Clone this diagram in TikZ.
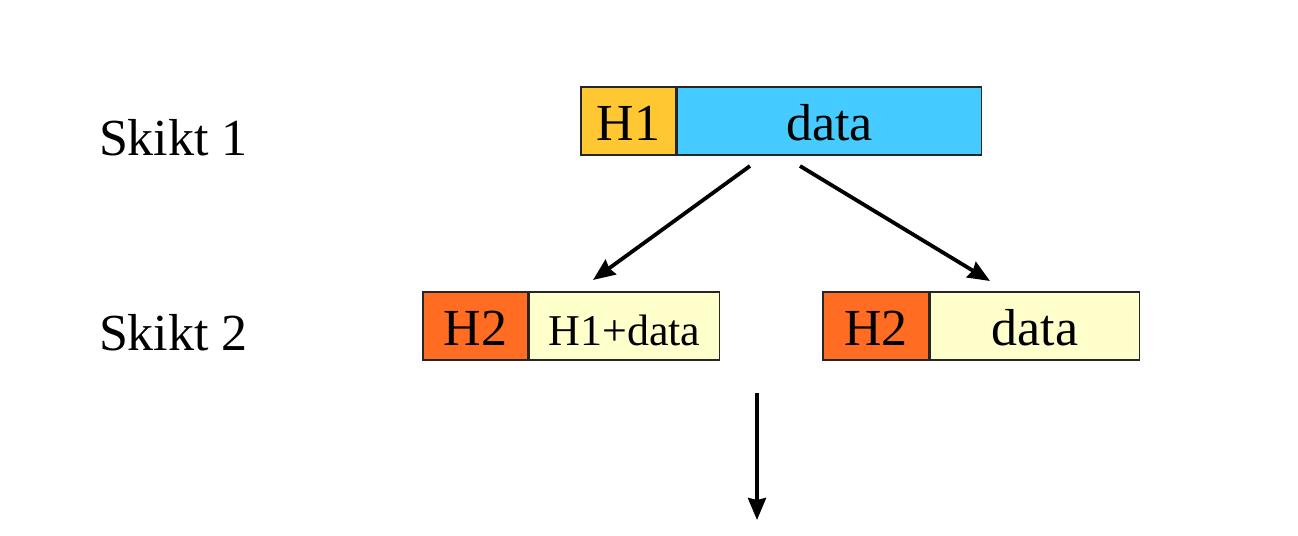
\documentclass[tikz,border=0pt]{standalone}
\usepackage{fontspec}
\setmainfont{Liberation Serif}
\usetikzlibrary{positioning,arrows.meta}

\definecolor{hone}{HTML}{FFC832}
\definecolor{htwo}{HTML}{FF6C22}
\definecolor{skyblue}{HTML}{45CBFF}
\definecolor{paleyellow}{HTML}{FFFFCC}

\tikzset{
  cell/.style={draw=black!85, line width=0.7pt, minimum height=34pt, inner sep=0pt, text height=20pt, text depth=0pt, font=\fontsize{26}{30}\selectfont},
  arr/.style={line width=1.9pt, -{Stealth[length=11pt, width=9pt, inset=1pt]}}
}

\begin{document}
\begin{tikzpicture}[x=0.5pt, y=0.5pt]
  % keep the page as large as the reference
  \useasboundingbox (0,0) rectangle (1298,536);

  % layer labels
  \node[anchor=west, font=\fontsize{26}{30}\selectfont] (skikt1) at (92,398) {Skikt 1};
  \node[anchor=west, font=\fontsize{26}{30}\selectfont] (skikt2) at (92,203) {Skikt 2};

  % layer 1 packet
  \node[cell, fill=hone, minimum width=47.5pt] (h1) at (628.5,415) {H1};
  \node[cell, fill=skyblue, minimum width=152pt, right=0pt of h1] (data1) {data};

  % layer 2 fragments
  \node[cell, fill=htwo, minimum width=52.5pt] (h2a) at (475.5,210) {H2};
  \node[cell, fill=paleyellow, minimum width=95pt, right=0pt of h2a, font=\fontsize{22}{26}\selectfont] (data2a) {H1+data};
  \node[cell, fill=htwo, minimum width=53pt] (h2b) at (876,210) {H2};
  \node[cell, fill=paleyellow, minimum width=104.5pt, right=0pt of h2b] (data2b) {data};

  % arrow end points
  \coordinate (s1) at (750,370);
  \coordinate (s2) at (800,370);
  \coordinate (e1) at (593,256);
  \coordinate (e2) at (990,255);
  \coordinate (s3) at (757,143);
  \coordinate (e3) at (757,16);

  \draw[arr] (s1) -- (e1);
  \draw[arr] (s2) -- (e2);
  \draw[arr] (s3) -- (e3);
\end{tikzpicture}
\end{document}
